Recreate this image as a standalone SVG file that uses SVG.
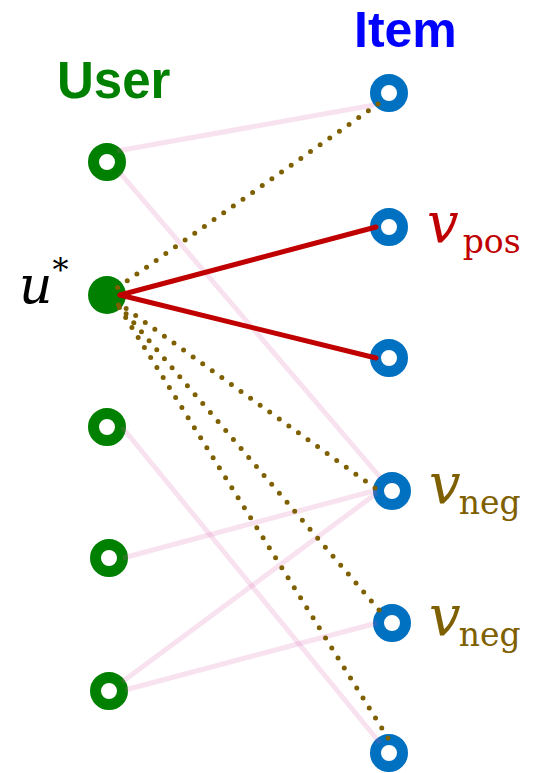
<svg xmlns="http://www.w3.org/2000/svg" width="539" height="773" viewBox="0 0 539 773">
<style>
.title{font-family:"Liberation Sans",Arial,sans-serif;font-weight:bold;}
.user{fill:none;stroke:#008000;stroke-width:11;}
.item{fill:none;stroke:#0070C0;stroke-width:11;}
.pink{stroke:#D660AE;stroke-opacity:0.18;stroke-width:5;fill:none;}
.pos{stroke:#C00000;stroke-width:5;stroke-linecap:round;fill:none;}
.neg{stroke:#7F6000;stroke-width:5;stroke-linecap:round;stroke-dasharray:0 11.8;fill:none;}
.mi{font-family:"DejaVu Serif","Liberation Serif",serif;font-style:italic;}
.sub{font-family:"DejaVu Serif","Liberation Serif",serif;}
</style>
<rect width="539" height="773" fill="#ffffff"/>
<text class="title" x="57" y="98" font-size="51" fill="#008000">User</text>
<text class="title" x="354" y="47" font-size="50" fill="#0000FF">Item</text>
<g id="u1"><circle class="user" cx="107" cy="162" r="13.5"/></g>
<g id="ustar"><circle cx="107" cy="295" r="19" fill="#008000"/></g>
<g id="u3"><circle class="user" cx="107" cy="427" r="13.5"/></g>
<g id="u4"><circle class="user" cx="109" cy="558" r="13.5"/></g>
<g id="u5"><circle class="user" cx="109" cy="691" r="13.5"/></g>
<g id="i1"><circle class="item" cx="389" cy="93" r="13.5"/></g>
<g id="i2"><circle class="item" cx="389" cy="227" r="13.5"/></g>
<g id="i3"><circle class="item" cx="389" cy="358" r="13.5"/></g>
<g id="i4"><circle class="item" cx="392" cy="491" r="13.5"/></g>
<g id="i5"><circle class="item" cx="392" cy="623" r="13.5"/></g>
<g id="i6"><circle class="item" cx="389" cy="753" r="13.5"/></g>
<g id="connectors">
<line class="pink" x1="117" y1="151" x2="374" y2="105"/>
<line class="pink" x1="120" y1="173" x2="380" y2="477"/>
<line class="pink" x1="122" y1="427" x2="380" y2="743"/>
<line class="pink" x1="123" y1="558" x2="377" y2="490"/>
<line class="pink" x1="122" y1="682" x2="377" y2="493"/>
<line class="pink" x1="125" y1="690" x2="377" y2="623"/>
<line class="neg" x1="378" y1="104" x2="117" y2="288"/>
<line class="neg" x1="375" y1="488" x2="117" y2="302"/>
<line class="neg" x1="379" y1="610" x2="116" y2="302"/>
<line class="neg" x1="388" y1="738" x2="116" y2="302"/>
<line class="pos" x1="120" y1="295" x2="376" y2="227"/>
<line class="pos" x1="120" y1="295" x2="376" y2="358"/>
</g>
<g id="labels">
<text x="19" y="303" font-size="52" fill="#000000"><tspan class="mi">u</tspan><tspan class="sub" font-size="32" dy="-22">*</tspan></text>
<text x="427" y="242" fill="#C00000"><tspan class="mi" font-size="56">v</tspan><tspan class="sub" font-size="33" dx="4" dy="11">pos</tspan></text>
<text x="429" y="503" fill="#7F6000"><tspan class="mi" font-size="56">v</tspan><tspan class="sub" font-size="33" dx="-2" dy="11">neg</tspan></text>
<text x="429" y="635" fill="#7F6000"><tspan class="mi" font-size="56">v</tspan><tspan class="sub" font-size="33" dx="-2" dy="11">neg</tspan></text>
</g>
</svg>
